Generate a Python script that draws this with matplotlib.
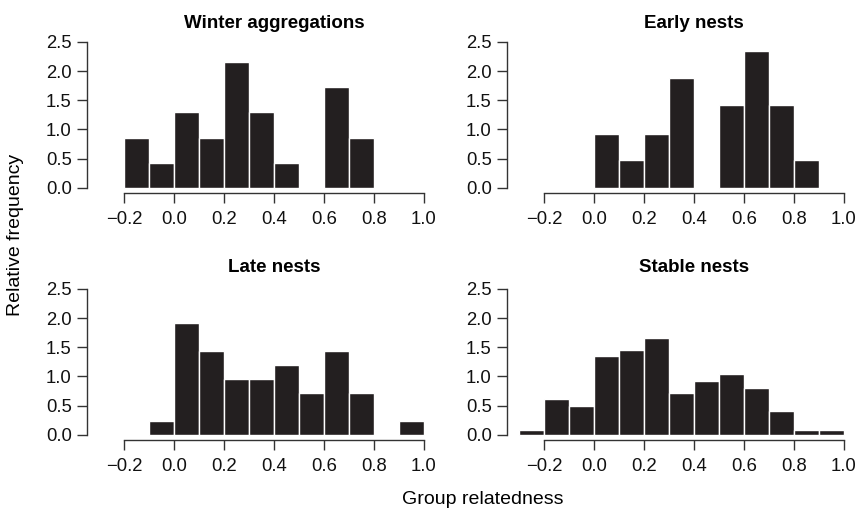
import numpy as np
import matplotlib.pyplot as plt

plt.rcParams['font.family'] = ['Liberation Sans', 'DejaVu Sans']
plt.rcParams['axes.unicode_minus'] = True

# bin left edges and relative frequencies (bin width 0.1)
titles = ["Winter aggregations", "Early nests", "Late nests", "Stable nests"]

winter_start = -0.2
winter_freq = [0.86, 0.43, 1.29, 0.86, 2.16, 1.29, 0.43, 0.0, 1.72, 0.86]

early_start = 0.0
early_freq = [0.93, 0.47, 0.93, 1.88, 0.0, 1.41, 2.35, 1.41, 0.47]

late_start = -0.1
late_freq = [0.24, 1.92, 1.44, 0.96, 0.96, 1.20, 0.72, 1.44, 0.72, 0.0, 0.24]

stable_start = -0.3
stable_freq = [0.08, 0.62, 0.50, 1.35, 1.45, 1.66, 0.72, 0.93, 1.04, 0.81, 0.41, 0.08, 0.08]

panels = [(winter_start, winter_freq), (early_start, early_freq),
          (late_start, late_freq), (stable_start, stable_freq)]

x_ticks = [-0.2, 0.0, 0.2, 0.4, 0.6, 0.8, 1.0]
y_ticks = [0.0, 0.5, 1.0, 1.5, 2.0, 2.5]
bin_w = 0.1

W, H = 856, 509
fig = plt.figure(figsize=(W / 100, H / 100), dpi=100)

# axes boxes in pixels: left, bottom (y of axis line), right, top, title y
boxes = [(87, 193, 426, 39, 23), (507, 193, 846, 39, 23),
         (87, 440, 426, 286, 268), (507, 440, 846, 286, 268)]

line_col = "#333333"
bar_col = "#231f20"
fs = 13.3

for (start, freq), title, (l, b, r, t, ty) in zip(panels, titles, boxes):
    ax = fig.add_axes([l / W, 1 - b / H, (r - l) / W, (b - t) / H])
    lefts = start + bin_w * np.arange(len(freq))
    ax.bar(lefts, freq, width=bin_w, align="edge", color=bar_col,
           edgecolor="white", linewidth=1.0)
    ax.set_xlim(-0.348, 1.008)
    ax.set_ylim(-0.09, 2.55)
    for s in ["top", "right"]:
        ax.spines[s].set_visible(False)
    ax.spines["left"].set_bounds(0, 2.5)
    ax.spines["bottom"].set_bounds(-0.2, 1.0)
    for s in ["left", "bottom"]:
        ax.spines[s].set_color(line_col)
        ax.spines[s].set_linewidth(1.0)
    ax.set_xticks(x_ticks)
    ax.set_xticklabels([f"{v:.1f}".replace("-", "\u2212") for v in x_ticks])
    ax.set_yticks(y_ticks)
    ax.set_yticklabels([f"{v:.1f}" for v in y_ticks])
    ax.tick_params(axis="both", direction="out", length=7, width=1.0,
                   color=line_col, labelsize=fs, labelcolor="#111111")
    ax.tick_params(axis="y", pad=4)
    ax.tick_params(axis="x", pad=6)
    ax.patch.set_visible(False)

    # title centred over the x-axis range (x = 0.4), not over the axes box
    ax.text(0.4, 1 - ty / H, title,
            transform=ax.get_xaxis_transform().__class__(ax.transData, fig.transFigure),
            ha="center", va="center", fontsize=13.5, fontweight="bold")

fig.text(16 / W, 1 - 235 / H, "Relative frequency", rotation=90,
         ha="center", va="center", fontsize=14)
fig.text(483 / W, 1 - 500 / H, "Group relatedness",
         ha="center", va="center", fontsize=14)

fig.savefig("out.png", dpi=100)
